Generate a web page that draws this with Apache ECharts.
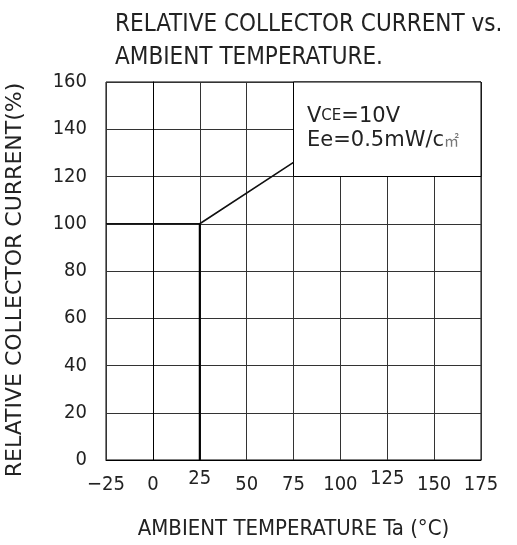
<!DOCTYPE html>
<html>
<head>
<meta charset="utf-8">
<script src="https://cdn.jsdelivr.net/npm/echarts@6/dist/echarts.min.js"></script>
<style>
  html, body { margin: 0; padding: 0; background: #fff; }
  #chart { width: 517px; height: 545px; }
</style>
</head>
<body>
<div id="chart"></div>
<script>
// temperature (°C) vs relative collector current (%)
const curveTemp = [-25, 25, 75]
const curveCurrent = [100, 100, 126]
// the drop line at 25 °C
const dropTemp = [25, 25]
const dropCurrent = [0, 100]
const xTicks = [-25, 0, 25, 50, 75, 100, 125, 150, 175]
const raisedTicks = [25, 125]

const font = '"DejaVu Sans Condensed", "Liberation Sans Narrow", "DejaVu Sans", sans-serif'
const wideFont = '"DejaVu Sans", sans-serif'
const ink = '#222'

const chart = echarts.init(document.getElementById('chart'))
chart.setOption({
  animation: false,
  title: {
    text: 'RELATIVE COLLECTOR CURRENT vs.\nAMBIENT TEMPERATURE.',
    left: 110,
    top: 3,
    textStyle: {
      fontFamily: font,
      fontWeight: 'normal',
      fontSize: 24,
      lineHeight: 33,
      color: ink
    }
  },
  grid: {
    left: 106,
    right: 36,
    top: 82,
    bottom: 85,
    outerBoundsMode: 'none',
    containLabel: false,
    show: true,
    borderColor: '#000',
    borderWidth: 1
  },
  xAxis: {
    type: 'value',
    min: xTicks[0],
    max: xTicks[xTicks.length - 1],
    interval: 25,
    name: 'AMBIENT TEMPERATURE Ta (°C)',
    nameLocation: 'middle',
    nameGap: 58,
    nameTextStyle: { fontFamily: font, fontSize: 22, color: ink },
    axisLine: { lineStyle: { color: '#000' } },
    axisTick: { show: false },
    axisLabel: {
      margin: 9,
      fontFamily: font,
      fontSize: 20,
      color: ink,
      formatter: v => raisedTicks.includes(v) ? '{up|' + v + '}' : '{n|' + String(v).replace('-', '\u2212') + '}',
      rich: {
        up: { fontFamily: font, fontSize: 20, color: ink },
        n: { fontFamily: font, fontSize: 20, color: ink, padding: [6, 0, 0, 0] }
      }
    },
    splitLine: { show: true, lineStyle: { color: '#333', width: 1 } }
  },
  yAxis: {
    type: 'value',
    min: 0,
    max: 160,
    interval: 20,
    name: 'RELATIVE COLLECTOR CURRENT(%)',
    nameLocation: 'middle',
    nameGap: 80,
    nameTextStyle: { fontFamily: wideFont, fontSize: 22, color: ink, padding: [0, 18, 0, 0] },
    axisLine: { show: true, lineStyle: { color: '#000' } },
    axisTick: { show: false },
    axisLabel: {
      margin: 19,
      fontFamily: font,
      fontSize: 20,
      color: ink
    },
    splitLine: { show: true, lineStyle: { color: '#333', width: 1 } }
  },
  series: [
    {
      type: 'line',
      data: curveTemp.map((t, i) => [t, curveCurrent[i]]),
      symbol: 'none',
      lineStyle: { color: '#111', width: 1.6 },
      markArea: {
        silent: true,
        itemStyle: { color: '#fff', opacity: 1, borderColor: '#000', borderWidth: 1 },
        data: [[{ coord: [75, 120] }, { coord: [175, 160] }]],
        label: { show: false }
      },
      z: 3
    },
    {
      type: 'line',
      data: dropTemp.map((t, i) => [t, dropCurrent[i]]),
      symbol: 'none',
      lineStyle: { color: '#000', width: 2 },
      z: 3
    }
  ],
  graphic: [
    {
      type: 'text',
      left: 307,
      top: 106,
      z: 10,
      style: {
        text: '{a|V}{s|CE}{a|=10V}\n{a|Ee=0.5mW/c}{u|\u33A1}',
        fill: ink,
        rich: {
          a: { fontFamily: wideFont, fontSize: 21, lineHeight: 24, fill: ink },
          s: { fontFamily: wideFont, fontSize: 15, lineHeight: 24, fill: ink },
          u: { fontFamily: '"Noto Sans CJK SC", serif', fontSize: 15, lineHeight: 24, fill: '#777' }
        }
      }
    }
  ]
})
</script>
</body>
</html>
